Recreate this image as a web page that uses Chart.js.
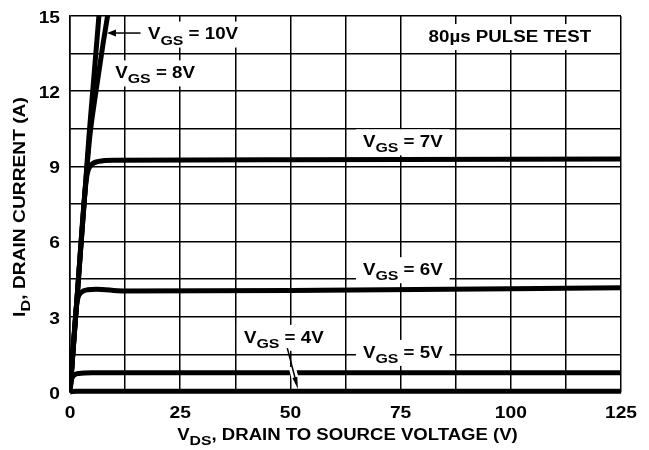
<!DOCTYPE html>
<html lang="en">
<head>
  <meta charset="UTF-8">
  <title>Drain Current vs Drain to Source Voltage</title>
  <style>
    body {
      margin: 0;
      background: #fff;
    }
    .chart-wrap {
      position: relative;
      width: 649px;
      height: 450px;
    }
  </style>
  <script src="https://cdn.jsdelivr.net/npm/chart.js"></script>
</head>
<body>
  <div class="chart-wrap">
    <canvas id="idChart"></canvas>
  </div>

  <script>
    // axis ticks
    const xTicks = [0, 25, 50, 75, 100, 125];
    const yTicks = [0, 3, 6, 9, 12, 15];

    // curves: VDS (V) and ID (A) per gate voltage
    const vds10 = [0, 1.7, 3.4, 4.3, 5.2, 6.0, 6.7];
    const id10  = [0, 4.0, 8.0, 10.2, 12.1, 13.8, 15.3];

    const vds8 = [0, 1.7, 3.4, 4.5, 5.9, 7.5, 8.8];
    const id8  = [0, 4.0, 8.0, 10.2, 12.0, 13.9, 15.3];

    const vds7 = [0, 1.7, 3.3, 3.9, 4.8, 6.5, 10, 50, 125];
    const id7  = [0, 4.0, 7.8, 8.7, 9.05, 9.2, 9.25, 9.27, 9.3];

    const vds6 = [0, 1.4, 1.8, 2.6, 4, 6, 12, 50, 125];
    const id6  = [0, 3.3, 3.75, 3.98, 4.08, 4.1, 4.03, 4.05, 4.16];

    const vds5 = [0, 0.3, 0.8, 2, 5, 125];
    const id5  = [0, 0.45, 0.65, 0.74, 0.77, 0.77];

    const vds4 = [0, 0.5, 1.5, 125];
    const id4  = [0, 0.02, 0.03, 0.03];

    const FONT = '"Liberation Sans", Arial, sans-serif';
    const SIZE = 16;

    function pts(xs, ys) {
      return xs.map((x, i) => ({ x: x, y: ys[i] }));
    }

    function curve(xs, ys, clip) {
      return {
        data: pts(xs, ys),
        borderColor: '#000',
        borderWidth: 5,
        pointRadius: 0,
        fill: false,
        cubicInterpolationMode: 'monotone',
        clip: clip
      };
    }

    // text annotations, placed in data units
    const notes = [
      { parts: [['V'], ['GS', 1], [' = 10V']], x: 27.9, y: 14.3 },
      { parts: [['V'], ['GS', 1], [' = 8V']], x: 19.3, y: 12.75 },
      { parts: [['V'], ['GS', 1], [' = 7V']], x: 75.5, y: 10.0 },
      { parts: [['V'], ['GS', 1], [' = 6V']], x: 75.5, y: 4.9 },
      { parts: [['V'], ['GS', 1], [' = 5V']], x: 75.5, y: 1.6 },
      { parts: [['V'], ['GS', 1], [' = 4V']], x: 48.5, y: 2.2 },
      { parts: [['80\u00b5s PULSE TEST']], x: 99.8, y: 14.2 }
    ];

    function partsWidth(ctx, parts, size) {
      let w = 0;
      parts.forEach(p => {
        ctx.font = 'bold ' + (p[1] ? size * 0.85 : size) + 'px ' + FONT;
        w += ctx.measureText(p[0]).width;
      });
      return w;
    }

    // draws text, centred vertically on the caps middle at (0,0)
    function drawParts(ctx, parts, size, align) {
      const w = partsWidth(ctx, parts, size);
      let x = align === 'right' ? -w : (align === 'left' ? 0 : -w / 2);
      const base = size * 0.36;
      ctx.textBaseline = 'alphabetic';
      ctx.textAlign = 'left';
      parts.forEach(p => {
        const sub = p[1];
        ctx.font = 'bold ' + (sub ? size * 0.85 : size) + 'px ' + FONT;
        ctx.fillText(p[0], x, base + (sub ? size * 0.33 : 0));
        x += ctx.measureText(p[0]).width;
      });
      return w;
    }

    function stretched(ctx, parts, x, y, sx, align, rot) {
      ctx.save();
      ctx.translate(x, y);
      if (rot) ctx.rotate(rot);
      ctx.scale(sx, 1);
      drawParts(ctx, parts, SIZE, align);
      ctx.restore();
    }

    function arrow(ctx, x0, y0, x1, y1, head, half) {
      const a = Math.atan2(y1 - y0, x1 - x0);
      ctx.beginPath();
      ctx.moveTo(x0, y0);
      ctx.lineTo(x1 - Math.cos(a) * head * 0.6, y1 - Math.sin(a) * head * 0.6);
      ctx.stroke();
      ctx.beginPath();
      ctx.moveTo(x1, y1);
      ctx.lineTo(x1 - Math.cos(a) * head - Math.sin(a) * half, y1 - Math.sin(a) * head + Math.cos(a) * half);
      ctx.lineTo(x1 - Math.cos(a) * head + Math.sin(a) * half, y1 - Math.sin(a) * head - Math.cos(a) * half);
      ctx.closePath();
      ctx.fill();
    }

    const textPlugin = {
      id: 'textPlugin',
      afterDatasetsDraw(chart) {
        const ctx = chart.ctx;
        const xs = chart.scales.x;
        const ys = chart.scales.y;
        const area = chart.chartArea;
        ctx.save();
        ctx.fillStyle = '#000';

        // tick labels
        xTicks.forEach(v => {
          stretched(ctx, [[String(v)]], xs.getPixelForValue(v), 412, 1.2, 'center');
        });
        yTicks.forEach(v => {
          stretched(ctx, [[String(v)]], 60, ys.getPixelForValue(v) + 1, 1.2, 'right');
        });

        // axis titles
        stretched(ctx, [['V'], ['DS', 1], [', DRAIN TO SOURCE VOLTAGE (V)']],
          (area.left + area.right) / 2 + 2, 434, 1.16, 'center');
        stretched(ctx, [['I'], ['D', 1], [', DRAIN CURRENT (A)']],
          19, 207, 1.2, 'center', -Math.PI / 2);

        // curve labels on white boxes
        notes.forEach(n => {
          const cx = xs.getPixelForValue(n.x);
          const cy = ys.getPixelForValue(n.y);
          const w = partsWidth(ctx, n.parts, SIZE) * 1.17;
          ctx.fillStyle = '#fff';
          ctx.fillRect(cx - w / 2 - 7, cy - 12, w + 14, 26);
          ctx.fillStyle = '#000';
          stretched(ctx, n.parts, cx, cy, 1.17, 'center');
        });

        // arrows
        ctx.lineWidth = 1.5;
        ctx.strokeStyle = '#000';
        arrow(ctx, xs.getPixelForValue(16), ys.getPixelForValue(14.32),
          xs.getPixelForValue(8.4), ys.getPixelForValue(14.32), 9, 3.5);

        const ax0 = xs.getPixelForValue(49.3), ay0 = ys.getPixelForValue(1.75);
        const ax1 = xs.getPixelForValue(51.7), ay1 = ys.getPixelForValue(0.12);
        ctx.strokeStyle = '#fff';
        ctx.lineWidth = 7;
        ctx.beginPath();
        ctx.moveTo(ax0 + (ax1 - ax0) * 0.45, ay0 + (ay1 - ay0) * 0.45);
        ctx.lineTo(ax0 + (ax1 - ax0) * 0.85, ay0 + (ay1 - ay0) * 0.85);
        ctx.stroke();
        ctx.strokeStyle = '#000';
        ctx.lineWidth = 1.5;
        arrow(ctx, ax0, ay0, ax1, ay1, 12, 2.5);

        ctx.restore();
      }
    };

    new Chart(document.getElementById('idChart'), {
      type: 'line',
      data: {
        datasets: [
          curve(vds10, id10, 0),
          curve(vds8, id8, 0),
          curve(vds7, id7, 0),
          curve(vds6, id6, 0),
          curve(vds5, id5, 0),
          curve(vds4, id4, 6)
        ]
      },
      options: {
        responsive: true,
        maintainAspectRatio: false,
        animation: false,
        layout: {
          padding: { top: 16, right: 28, left: 0, bottom: 0 }
        },
        plugins: {
          legend: { display: false },
          tooltip: { enabled: false }
        },
        scales: {
          x: {
            type: 'linear',
            min: 0,
            max: 125,
            ticks: { stepSize: 12.5, display: false },
            grid: { color: '#000', lineWidth: 1.5, drawTicks: false },
            border: { color: '#000', width: 1.5 },
            afterFit: s => { s.height = 58; }
          },
          y: {
            min: 0,
            max: 15,
            ticks: { stepSize: 1.5, display: false },
            grid: { color: '#000', lineWidth: 1.5, drawTicks: false },
            border: { color: '#000', width: 1.5 },
            afterFit: s => { s.width = 70; }
          }
        }
      },
      plugins: [textPlugin]
    });
  </script>
</body>
</html>
